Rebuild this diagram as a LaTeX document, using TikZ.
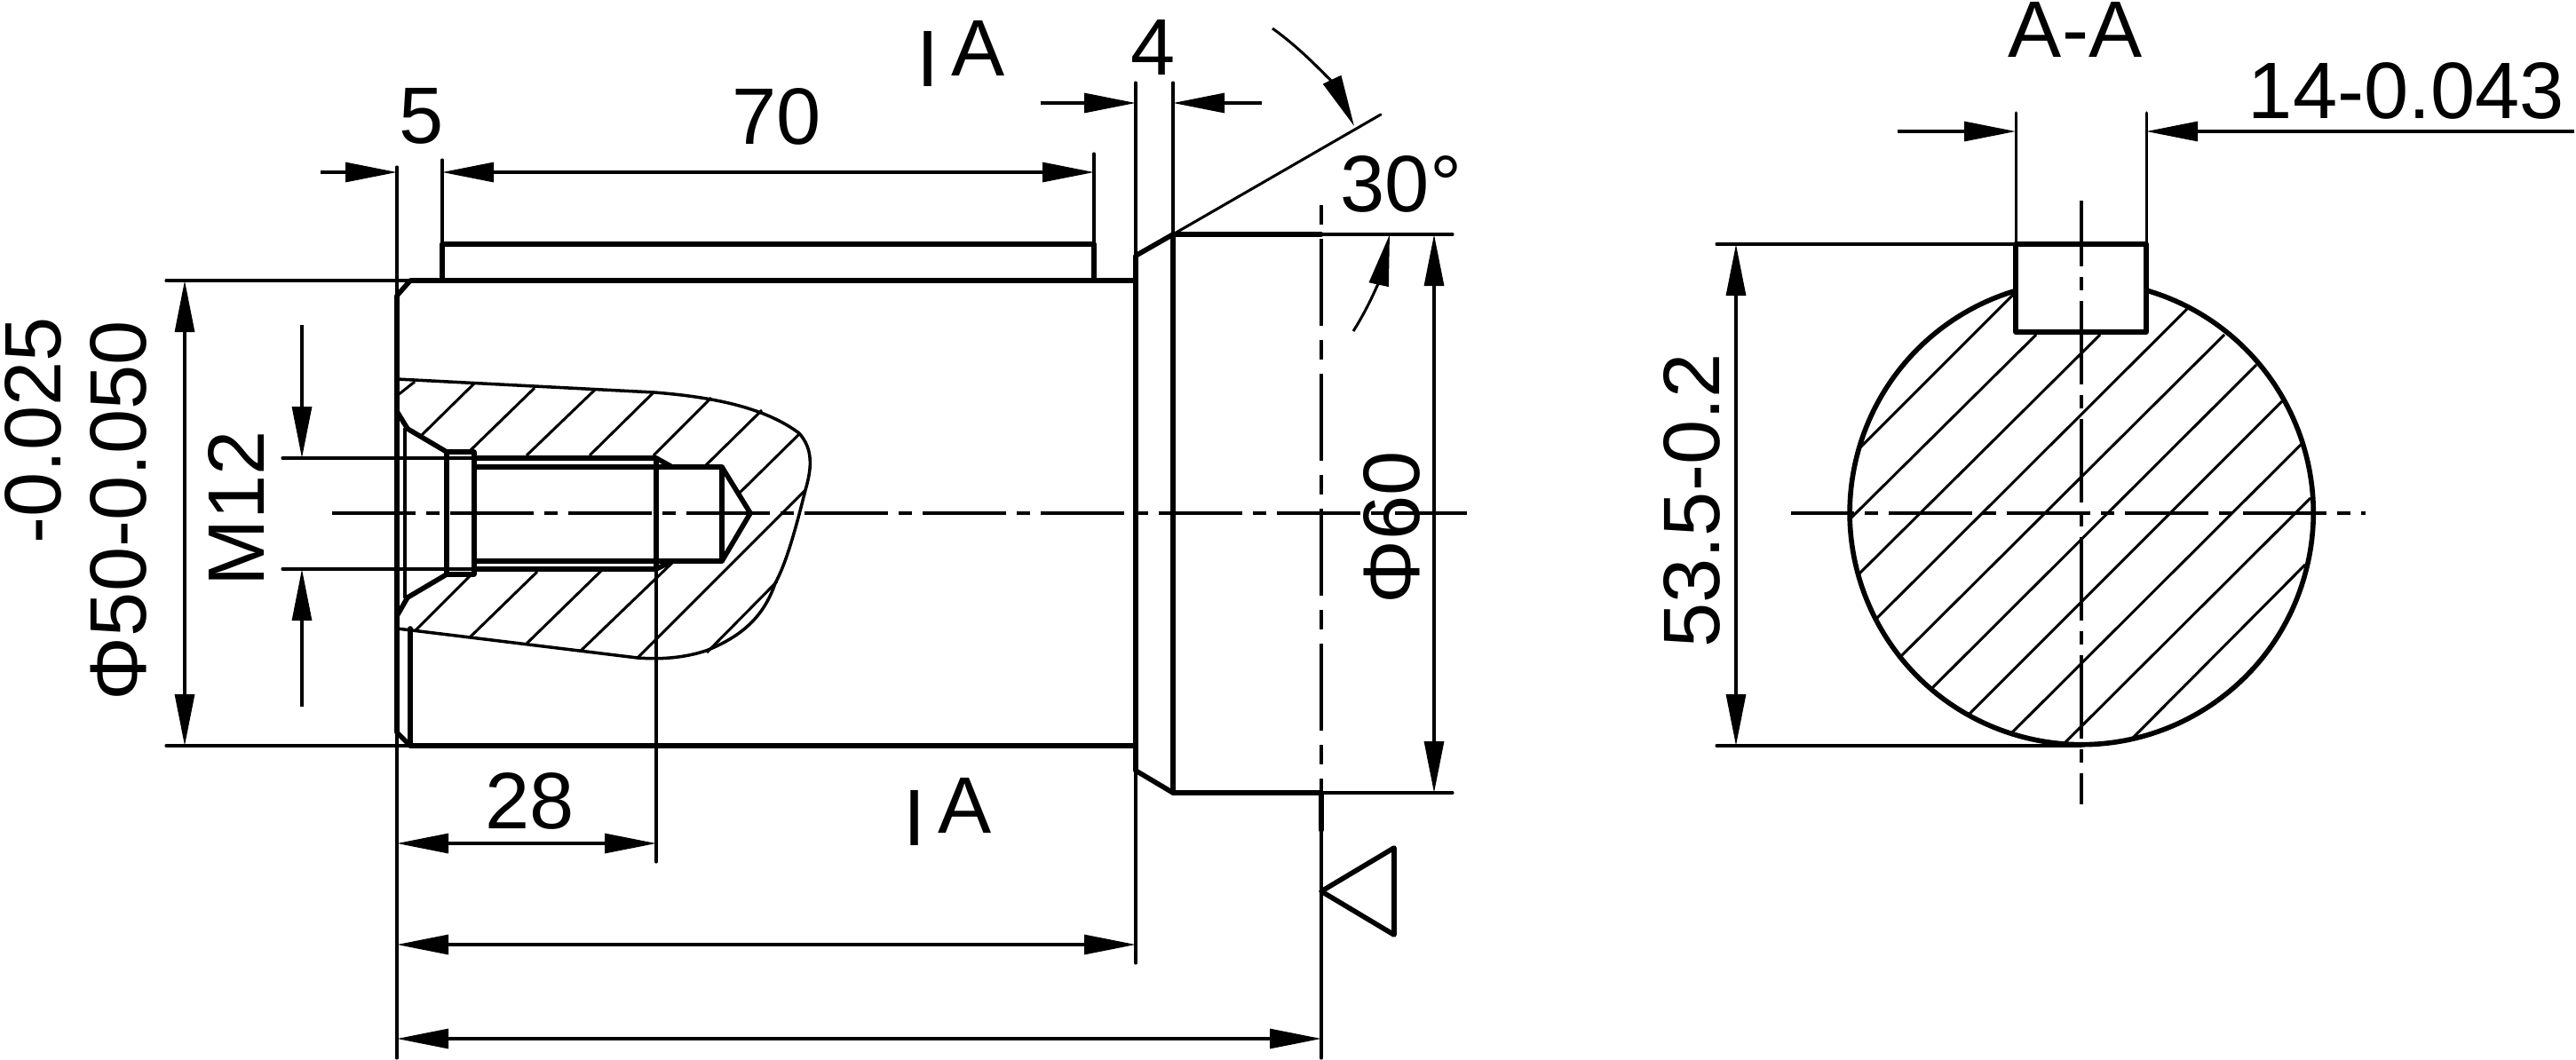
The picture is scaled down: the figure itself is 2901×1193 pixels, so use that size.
\documentclass[tikz,border=0pt]{standalone}
\usepackage{fontspec}
\setmainfont{Liberation Sans}
\usetikzlibrary{arrows.meta}
\tikzset{
  x=0.03cm,y=-0.03cm,
  thinl/.style={line width=2.6pt,line cap=round,line join=round},
  thickl/.style={line width=4.8pt,line cap=round,line join=round},
  hatchl/.style={line width=2.6pt},
  centerl/.style={line width=3.2pt,dash pattern=on 2.82cm off 0.36cm on 0.45cm off 0.36cm},
  centerb/.style={line width=3.2pt,dash pattern=on 2.94cm off 0.48cm on 0.66cm off 0.48cm},
  dimr/.style={thinl,line cap=butt,-{Triangle[length=1.74cm,width=0.66cm]}},
  dimb/.style={thinl,line cap=butt,{Triangle[length=1.74cm,width=0.66cm]}-{Triangle[length=1.74cm,width=0.66cm]}},
  lab/.style={inner sep=0pt,font=\fontsize{77}{80}\selectfont},
}
\begin{document}
\begin{tikzpicture}
\useasboundingbox (0,0) rectangle (2901,1193);
% hatching left view
\draw[hatchl] (448,445)--(467,430) (475,490)--(534,432) (529,508)--(602,437) (593,513)--(670,439) (664,513)--(736,442) (736,513)--(801,448) (795,524)--(858,462) (833,555)--(900,489)
 (468,710)--(530,648) (530,717)--(605,644) (593,725)--(677,643) (654,733)--(757,634) (718,741)--(907,552) (796,735)--(875,655);
% break curve
\draw[thinl,line width=3pt] (447,427)--(737,442) .. controls (800,447) and (860,458) .. (900,488) .. controls (915,505) and (915,525) .. (907,552) .. controls (895,600) and (885,635) .. (873,657) .. controls (860,695) and (835,717) .. (795,733) .. controls (770,741) and (745,743) .. (718,741) -- (464,710) -- (447,708);
% centre lines
\draw[centerl] (374,578)--(1652,578);
\draw[centerb,dash phase=3.42cm] (1488,231)--(1488,935);
\draw[thinl] (1488,935)--(1488,1192);
% extension lines
\draw[thinl] (447,188)--(447,333) (447,825)--(447,1192);
\draw[thinl] (187,316)--(462,316) (187,840)--(462,840);
\draw[thinl] (498,180)--(498,275) (1232,173)--(1232,275);
\draw[thinl] (1279,93)--(1279,288) (1321,93)--(1321,264);
\draw[thinl] (1279,868)--(1279,1085);
\draw[thinl] (1321,264)--(1555,129);
\draw[thinl] (1488,264)--(1636,264) (1488,893)--(1636,893);
\draw[thinl] (318,516)--(534,516) (318,641)--(534,641);
\draw[thinl] (739,641)--(739,971);
\draw[thinl] (456,483)--(456,673);
% body outline
\draw[thickl] (447,333)--(447,825)--(462,840)--(1279,840) (447,333)--(462,316)--(1279,316);
\draw[thickl] (462,708)--(462,840);
\draw[thickl] (498,316)--(498,275)--(1232,275)--(1232,316);
\draw[thickl] (1279,868)--(1279,288)--(1321,264)--(1488,264);
\draw[thickl] (1279,868)--(1321,893)--(1488,893);
\draw[thickl] (1321,264)--(1321,893);
\draw[thickl] (1488,893)--(1488,935);
% threaded hole
\draw[thickl] (448,465)--(459,483)--(503,509)--(534,509)--(534,647)--(503,647)--(459,673)--(448,692);
\draw[thickl] (503,509)--(503,647);
\draw[thickl] (534,516)--(739,516)--(757,526) (534,641)--(739,641)--(757,632);
\draw[thickl] (534,526)--(813,526)--(845,578)--(813,632)--(534,632);
\draw[thickl] (813,526)--(813,632) (739,516)--(739,641);
% triangle mark
\draw[thickl] (1488,1004)--(1570,955)--(1570,1053)--cycle;
% dimensions left view
\draw[dimr] (361,194)--(447,194);
\draw[dimb] (498,194)--(1232,194);
\draw[dimr] (1172,116)--(1279,116);
\draw[dimr] (1421,116)--(1321,116);
\draw[dimb] (208,316)--(208,840);
\draw[dimr] (340,366)--(340,516);
\draw[dimr] (340,796)--(340,641);
\draw[dimb] (447,950)--(739,950);
\draw[dimb] (447,1064)--(1279,1064);
\draw[dimb] (447,1170)--(1488,1170);
\draw[dimb] (1615,264)--(1615,893);
\draw[dimr] (1433,32) .. controls (1475,62) and (1505,100) .. (1525,142);
\draw[dimr] (1524,373) .. controls (1545,340) and (1555,310) .. (1565,264);
% section view
\draw[hatchl] (2094,505)--(2268,331) (2084,584)--(2293,377) (2094,646)--(2365,377) (2113,697)--(2463,348) (2140,740)--(2505,377) (2174,777)--(2541,411) (2217,805)--(2570,452) (2265,826)--(2591,501) (2325,837)--(2602,561) (2400,833)--(2596,636);
\draw[thickl,line cap=butt] (2417,327) arc[start angle=73.8,end angle=-253.8,radius=7.83cm];
\draw[thickl] (2270,275) rectangle (2417,374);
\draw[centerl,dash phase=0.6cm] (2344,226)--(2344,906);
\draw[centerl,dash phase=0.69cm] (2017,578)--(2664,578);
\draw[thinl] (2270,127)--(2270,275) (2417,127)--(2417,275);
\draw[thinl] (1933,275)--(2270,275) (1933,840)--(2344,840);
\draw[dimr] (2137,148)--(2270,148);
\draw[dimr] (2899,148)--(2417,148);
\draw[dimb] (1955,275)--(1955,840);
% labels
\node[lab] (l5) at (475,131) {5};
\node[lab] (l70) at (875,131) {70};
\node[lab] (l4) at (1299,53) {4};
\node[lab] (secI1) at (1045,66) {I};
\node[lab] (secA1) at (1102,54) {A};
\node[lab] (secI2) at (1030,921) {I};
\node[lab] (secA2) at (1087,907) {A};
\node[lab] (l30) at (1578,207) {30°};
\node[lab,rotate=90] (tolu) at (37,485) {-0.025};
\node[lab,rotate=90] (phi50) at (133,575) {Φ50-0.050};
\node[lab,rotate=90] (m12) at (266,573) {M12};
\node[lab] (l28) at (597,902) {28};
\node[lab,rotate=90] (phi60) at (1567,594) {Φ60};
\node[lab] (aa) at (2337,33) {A-A};
\node[lab] (key) at (2710,102) {14-0.043};
\node[lab,rotate=90] (l535) at (1905,564) {53.5-0.2};
\end{tikzpicture}
\end{document}
